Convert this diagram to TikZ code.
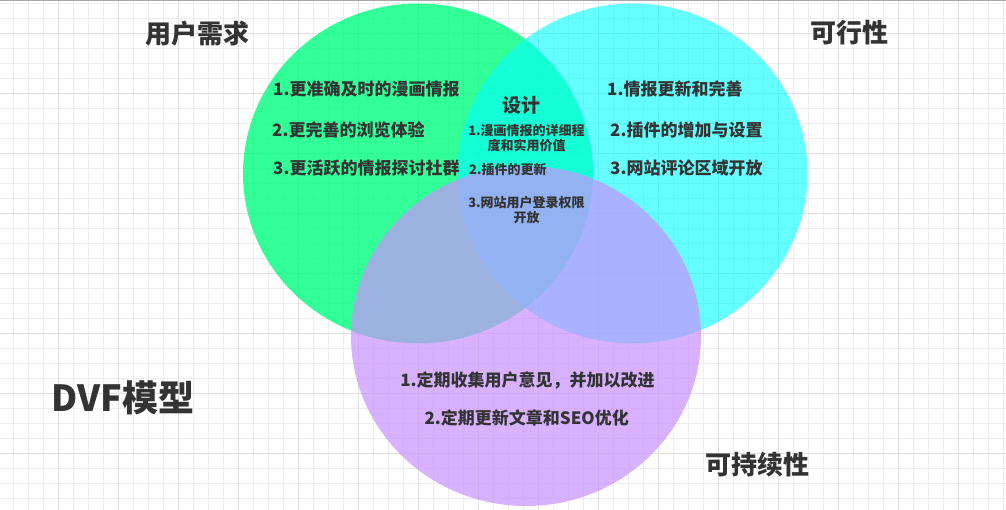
\documentclass[tikz,border=0pt]{standalone}
\usepackage{fontspec}
\setmainfont{Noto Sans CJK SC}
\definecolor{textgray}{HTML}{333333}
\definecolor{vgreen}{RGB}{0,255,128}
\definecolor{vcyan}{RGB}{0,255,255}
\definecolor{vpurple}{RGB}{201,146,255}
\begin{document}
\begin{tikzpicture}[x=1pt,y=-1pt,
  minorgrid/.style={draw=black!7,line width=1pt},
  majorgrid/.style={draw=black!12,line width=1pt},
  title/.style={text=textgray,font=\fontsize{26}{30}\selectfont\bfseries,inner sep=0pt},
  item/.style={text=textgray,font=\fontsize{17}{20}\selectfont\bfseries,inner sep=0pt},
  small/.style={text=textgray,font=\fontsize{13}{15}\selectfont\bfseries,inner sep=0pt,align=center}]
\useasboundingbox (0,0) rectangle (1006,510);

% grid
\foreach \i in {0,...,66} \draw[minorgrid] ({13.3+15*\i},0) -- ({13.3+15*\i},510);
\foreach \i in {0,...,33} \draw[minorgrid] (0,{3.3+15*\i}) -- (1006,{3.3+15*\i});
\foreach \i in {0,...,15} \draw[majorgrid] ({58.3+60*\i},0) -- ({58.3+60*\i},510);
\foreach \i in {0,...,7} \draw[majorgrid] (0,{33.3+60*\i}) -- (1006,{33.3+60*\i});
\draw[black!35,line width=1.5pt] (0,0.75) -- (1006,0.75);

% circles
\fill[vgreen,fill opacity=0.8] (418,173.5) ellipse [x radius=175,y radius=170];
\fill[vcyan,fill opacity=0.6] (632.5,173.5) ellipse [x radius=175,y radius=170];
\fill[vpurple,fill opacity=0.7] (526,336) ellipse [x radius=175,y radius=170];

% titles
\node[title] (user) at (197.5,33.5) {用户需求};
\node[title] (feasible) at (849,33) {可行性};
\node[title] (sustain) at (757.5,465) {可持续性};
\node[title,font=\fontsize{36}{40}\selectfont\bfseries] (model) at (123,398) {DVF模型};

% user needs
\node[item,anchor=west] (user1) at (273,89) {1.更准确及时的漫画情报};
\node[item,anchor=west] (user2) at (272,130) {2.更完善的浏览体验};
\node[item,anchor=west] (user3) at (273,168) {3.更活跃的情报探讨社群};

% design
\node[title,font=\fontsize{19}{22}\selectfont\bfseries] (design) at (521,105) {设计};
\node[small] (design1) at (526.5,138.5) {1.漫画情报的详细程\\度和实用价值};
\node[small,anchor=west] (design2) at (469,170) {2.插件的更新};
\node[small] (design3) at (526.5,210) {3.网站用户登录权限\\开放};

% feasibility
\node[item,anchor=west] (feas1) at (607,89) {1.情报更新和完善};
\node[item,anchor=west] (feas2) at (610,130.5) {2.插件的增加与设置};
\node[item,anchor=west] (feas3) at (610,168) {3.网站评论区域开放};

% sustainability
\node[item] (sust1) at (527.5,380) {1.定期收集用户意见，并加以改进};
\node[item] (sust2) at (526.7,418) {2.定期更新文章和SEO优化};
\end{tikzpicture}
\end{document}
